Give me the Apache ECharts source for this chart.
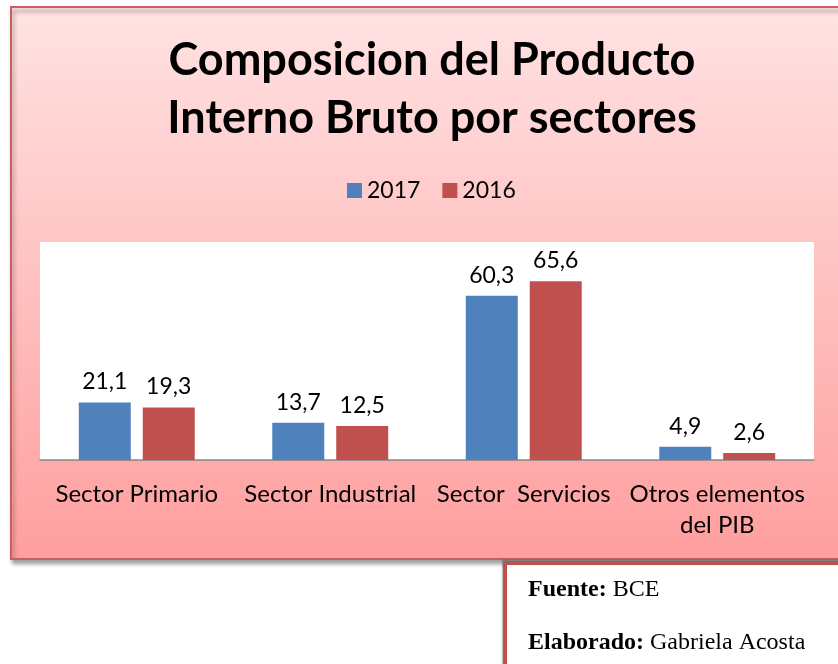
<!DOCTYPE html>
<html>
<head>
<meta charset="utf-8">
<script src="https://cdn.jsdelivr.net/npm/echarts@6/dist/echarts.min.js"></script>
<style>
  html, body { margin: 0; padding: 0; background: #fff; }
  #chart { width: 838px; height: 664px; }
</style>
</head>
<body>
<div id="chart"></div>
<script>
// datos del grafico
const sectores = ['Sector Primario', 'Sector Industrial', 'Sector  Servicios', 'Otros elementos\ndel PIB'];
const valores2017 = [21.1, 13.7, 60.3, 4.9];
const valores2016 = [19.3, 12.5, 65.6, 2.6];
const anios = ['2017', '2016'];

const chart = echarts.init(document.getElementById('chart'));

// etiqueta con coma decimal
const fmtComa = (p) => String(p.value).replace('.', ',');

const option = {
  animation: false,
  title: {
    text: 'Composicion del Producto\nInterno Bruto por sectores',
    left: 427,
    textAlign: 'center',
    top: 26,
    textStyle: {
      fontFamily: 'Lato',
      fontWeight: 'bold',
      fontSize: 45,
      lineHeight: 58,
      color: '#000'
    }
  },
  legend: {
    data: anios,
    top: 174,
    left: 342,
    itemWidth: 15,
    itemHeight: 15,
    itemGap: 22,
    icon: 'rect',
    textStyle: { fontFamily: 'Lato', fontSize: 23, color: '#000' }
  },
  grid: {
    left: 40,
    right: 24,
    top: 242,
    bottom: 204,
    show: true,
    backgroundColor: '#ffffff',
    borderWidth: 0,
    containLabel: false
  },
  xAxis: {
    type: 'category',
    data: sectores,
    axisTick: { show: false },
    axisLine: { lineStyle: { color: '#868686', width: 1.5 } },
    axisLabel: {
      interval: 0,
      margin: 19,
      fontFamily: 'Lato',
      fontSize: 24,
      lineHeight: 31,
      color: '#000'
    }
  },
  yAxis: {
    type: 'value',
    min: 0,
    max: 80,
    show: false,
    splitLine: { show: false }
  },
  graphic: [
    {
      type: 'rect',
      z: -10,
      shape: { x: 11, y: 7, width: 840, height: 552 },
      style: {
        fill: {
          type: 'linear', x: 0, y: 0, x2: 0, y2: 1,
          colorStops: [
            { offset: 0, color: '#ffe3e3' },
            { offset: 1, color: '#ff9e9e' }
          ]
        },
        stroke: '#c9605d',
        lineWidth: 2,
        shadowBlur: 4,
        shadowOffsetX: 2,
        shadowOffsetY: 4,
        shadowColor: 'rgba(0,0,0,0.35)'
      }
    },
    {
      type: 'rect',
      z: -5,
      shape: { x: 505, y: 563, width: 400, height: 200 },
      style: {
        fill: '#ffffff',
        stroke: '#c0504d',
        lineWidth: 4,
        shadowBlur: 2,
        shadowOffsetX: -1,
        shadowOffsetY: -1,
        shadowColor: 'rgba(0,0,0,0.3)'
      }
    },
    {
      type: 'text',
      left: 528,
      top: 578,
      style: {
        rich: {
          b: { fontFamily: 'Liberation Serif', fontSize: 24, fontWeight: 'bold', fill: '#000' },
          n: { fontFamily: 'Liberation Serif', fontSize: 24, fill: '#000' }
        },
        text: '{b|Fuente:}{n| BCE}'
      }
    },
    {
      type: 'text',
      left: 528,
      top: 631,
      style: {
        rich: {
          b: { fontFamily: 'Liberation Serif', fontSize: 24, fontWeight: 'bold', fill: '#000' },
          n: { fontFamily: 'Liberation Serif', fontSize: 24, fill: '#000' }
        },
        text: '{b|Elaborado:}{n| Gabriela Acosta}'
      }
    }
  ],
  series: [
    {
      name: '2017',
      type: 'bar',
      data: valores2017,
      barWidth: 52,
      barGap: '23%',
      itemStyle: { color: '#4f81bd' },
      label: {
        show: true,
        position: 'top',
        distance: 9,
        formatter: fmtComa,
        fontFamily: 'Lato',
        fontSize: 23,
        color: '#000'
      }
    },
    {
      name: '2016',
      type: 'bar',
      data: valores2016,
      barWidth: 52,
      barGap: '23%',
      itemStyle: { color: '#c0504d' },
      label: {
        show: true,
        position: 'top',
        distance: 9,
        formatter: fmtComa,
        fontFamily: 'Lato',
        fontSize: 23,
        color: '#000'
      }
    }
  ]
};

chart.setOption(option);
</script>
</body>
</html>
